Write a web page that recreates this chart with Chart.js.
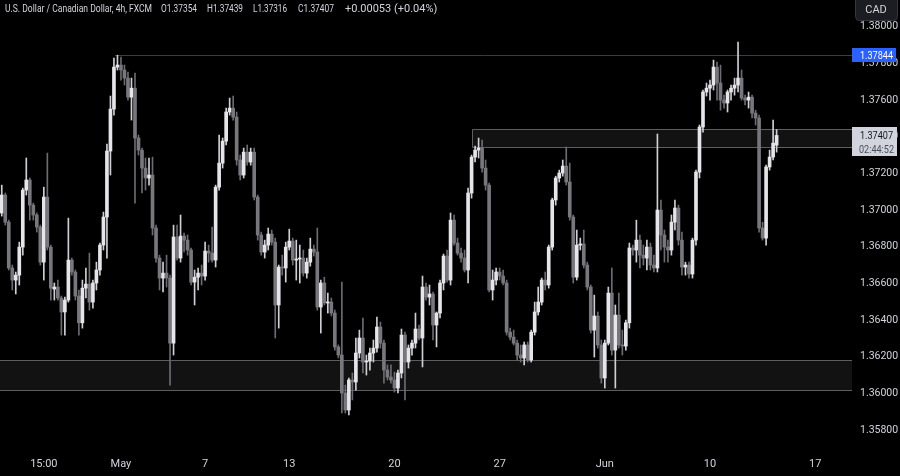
<!DOCTYPE html>
<html>
<head>
<meta charset="utf-8">
<title>USDCAD 4h</title>
<script src="https://cdn.jsdelivr.net/npm/chart.js@4.4.1/dist/chart.umd.min.js"></script>
<style>
  html, body { margin: 0; padding: 0; background: #000; }
  canvas { display: block; }
</style>
</head>
<body>
<canvas id="chart" width="900" height="476"></canvas>
<script>
'use strict'
// USDCAD 4h candles (FXCM)
const opens = [
  1.36984, 1.37082, 1.36934, 1.36684, 1.36618, 1.36645, 1.36798, 1.37109, 1.37164, 1.37027,
  1.36973, 1.36907, 1.36716, 1.37071, 1.36798, 1.36569, 1.36580, 1.36520, 1.36444, 1.36509,
  1.36727, 1.36662, 1.36531, 1.36385, 1.36574, 1.36596, 1.36498, 1.36602, 1.36673, 1.36809,
  1.36962, 1.37322, 1.37551, 1.37780, 1.37791, 1.37764, 1.37720, 1.37616, 1.37665, 1.37393,
  1.37327, 1.37229, 1.37175, 1.37191, 1.36902, 1.36738, 1.36629, 1.36656, 1.36629, 1.36274,
  1.36853, 1.36738, 1.36858, 1.36836, 1.36782, 1.36607, 1.36634, 1.36656, 1.36640, 1.36776,
  1.36765, 1.36727, 1.37125, 1.37256, 1.37376, 1.37535, 1.37556, 1.37507, 1.37273, 1.37191,
  1.37316, 1.37262, 1.37316, 1.37071, 1.36864, 1.36771, 1.36809, 1.36869, 1.36825, 1.36482,
  1.36689, 1.36684, 1.36798, 1.36831, 1.36727, 1.36733, 1.36738, 1.36656, 1.36716, 1.36787,
  1.36771, 1.36471, 1.36602, 1.36493, 1.36498, 1.36438, 1.36253, 1.36209, 1.36002, 1.35909,
  1.36073, 1.36062, 1.36220, 1.36302, 1.36171, 1.36176, 1.36220, 1.36247, 1.36362, 1.36274,
  1.36127, 1.36089, 1.36073, 1.36029, 1.36111, 1.36318, 1.36171, 1.36247, 1.36274, 1.36351,
  1.36302, 1.36580, 1.36525, 1.36542, 1.36373, 1.36438, 1.36602, 1.36749, 1.36618, 1.36945,
  1.36820, 1.36765, 1.36738, 1.36673, 1.37093, 1.37289, 1.37327, 1.37338, 1.37229, 1.37136,
  1.36564, 1.36618, 1.36662, 1.36640, 1.36602, 1.36334, 1.36307, 1.36274, 1.36209, 1.36193,
  1.36264, 1.36182, 1.36334, 1.36444, 1.36498, 1.36618, 1.36591, 1.36798, 1.37055, 1.37175,
  1.37202, 1.37240, 1.37153, 1.36962, 1.36634, 1.36809, 1.36815, 1.36700, 1.36580, 1.36345,
  1.36422, 1.36264, 1.36084, 1.36274, 1.36547, 1.36236, 1.36427, 1.36264, 1.36258, 1.36385,
  1.36793, 1.36782, 1.36836, 1.36754, 1.36738, 1.36798, 1.36700, 1.36684, 1.37000, 1.36864,
  1.36798, 1.36782, 1.36934, 1.37011, 1.36836, 1.36689, 1.36700, 1.36651, 1.36836, 1.37207,
  1.37453, 1.37644, 1.37665, 1.37682, 1.37780, 1.37693, 1.37600, 1.37584, 1.37644, 1.37665,
  1.37682, 1.37720, 1.37611, 1.37600, 1.37616, 1.37529, 1.37502, 1.36902, 1.36847, 1.37235,
  1.37289, 1.37354
];
const highs = [
  1.37136, 1.37093, 1.36945, 1.36700, 1.36662, 1.36825, 1.37120, 1.37284, 1.37175, 1.37038,
  1.36984, 1.36918, 1.37125, 1.37311, 1.36809, 1.36602, 1.36618, 1.36531, 1.36525, 1.36956,
  1.36738, 1.36673, 1.36564, 1.36618, 1.36684, 1.36765, 1.36618, 1.36716, 1.36820, 1.36989,
  1.37360, 1.37622, 1.37829, 1.37845, 1.37835, 1.37791, 1.37753, 1.37720, 1.37747, 1.37409,
  1.37338, 1.37284, 1.37284, 1.37289, 1.36918, 1.36754, 1.36716, 1.36754, 1.36645, 1.36918,
  1.36918, 1.36973, 1.36874, 1.36864, 1.36793, 1.36673, 1.36684, 1.36700, 1.36825, 1.36809,
  1.36907, 1.37136, 1.37409, 1.37393, 1.37556, 1.37611, 1.37622, 1.37535, 1.37300, 1.37338,
  1.37355, 1.37338, 1.37338, 1.37082, 1.36880, 1.36836, 1.36902, 1.36891, 1.36847, 1.36700,
  1.36754, 1.36825, 1.36896, 1.36847, 1.36836, 1.36809, 1.36782, 1.36738, 1.36847, 1.36809,
  1.36902, 1.36618, 1.36634, 1.36547, 1.36520, 1.36454, 1.36264, 1.36607, 1.36045, 1.36084,
  1.36111, 1.36302, 1.36345, 1.36411, 1.36209, 1.36247, 1.36291, 1.36416, 1.36389, 1.36291,
  1.36155, 1.36155, 1.36116, 1.36127, 1.36351, 1.36334, 1.36264, 1.36291, 1.36438, 1.36373,
  1.36640, 1.36602, 1.36591, 1.36553, 1.36444, 1.36618, 1.36760, 1.36782, 1.36984, 1.36973,
  1.36847, 1.36793, 1.36782, 1.37120, 1.37300, 1.37349, 1.37393, 1.37382, 1.37273, 1.37147,
  1.36673, 1.36684, 1.36684, 1.36673, 1.36618, 1.36356, 1.36345, 1.36291, 1.36264, 1.36280,
  1.36280, 1.36345, 1.36498, 1.36580, 1.36629, 1.36662, 1.36809, 1.37065, 1.37185, 1.37218,
  1.37273, 1.37344, 1.37256, 1.36973, 1.36891, 1.36847, 1.36891, 1.36716, 1.36591, 1.36536,
  1.36444, 1.36291, 1.36291, 1.36580, 1.36684, 1.36482, 1.36547, 1.36345, 1.36400, 1.36820,
  1.36809, 1.36945, 1.36864, 1.36809, 1.36836, 1.36820, 1.36754, 1.37415, 1.37055, 1.36891,
  1.36836, 1.36973, 1.37055, 1.37027, 1.36880, 1.36716, 1.36716, 1.36847, 1.37218, 1.37464,
  1.37655, 1.37693, 1.37709, 1.37818, 1.37807, 1.37791, 1.37627, 1.37655, 1.37682, 1.37720,
  1.37916, 1.37764, 1.37627, 1.37644, 1.37627, 1.37545, 1.37518, 1.36934, 1.37245, 1.37327,
  1.37491, 1.37439
];
const lows = [
  1.36967, 1.36918, 1.36673, 1.36564, 1.36542, 1.36591, 1.36754, 1.37082, 1.36945, 1.36945,
  1.36880, 1.36700, 1.36618, 1.36782, 1.36509, 1.36509, 1.36509, 1.36318, 1.36318, 1.36498,
  1.36645, 1.36509, 1.36318, 1.36356, 1.36520, 1.36454, 1.36465, 1.36564, 1.36645, 1.36782,
  1.36738, 1.37191, 1.37518, 1.37764, 1.37709, 1.37682, 1.37600, 1.37491, 1.37038, 1.37300,
  1.37093, 1.37109, 1.37136, 1.36864, 1.36716, 1.36564, 1.36553, 1.36580, 1.36045, 1.36209,
  1.36727, 1.36716, 1.36771, 1.36754, 1.36591, 1.36482, 1.36564, 1.36591, 1.36618, 1.36716,
  1.36716, 1.36689, 1.37109, 1.37229, 1.37355, 1.37518, 1.37491, 1.37245, 1.37164, 1.37175,
  1.37245, 1.37245, 1.37055, 1.36836, 1.36754, 1.36738, 1.36782, 1.36809, 1.36302, 1.36356,
  1.36645, 1.36607, 1.36782, 1.36700, 1.36618, 1.36602, 1.36640, 1.36629, 1.36694, 1.36749,
  1.36454, 1.36329, 1.36482, 1.36438, 1.36422, 1.36236, 1.36193, 1.35893, 1.35893, 1.35882,
  1.35964, 1.36018, 1.36193, 1.36111, 1.36100, 1.36127, 1.36171, 1.36225, 1.36247, 1.36056,
  1.36073, 1.36056, 1.36007, 1.36002, 1.36084, 1.35964, 1.36138, 1.36209, 1.36247, 1.36291,
  1.36144, 1.36509, 1.36482, 1.36291, 1.36253, 1.36411, 1.36564, 1.36607, 1.36591, 1.36809,
  1.36754, 1.36716, 1.36662, 1.36602, 1.37065, 1.37262, 1.37284, 1.37207, 1.37109, 1.36553,
  1.36509, 1.36591, 1.36618, 1.36591, 1.36318, 1.36291, 1.36264, 1.36182, 1.36171, 1.36155,
  1.36171, 1.36171, 1.36318, 1.36427, 1.36482, 1.36564, 1.36574, 1.36782, 1.37027, 1.37153,
  1.37185, 1.37136, 1.36945, 1.36602, 1.36618, 1.36782, 1.36684, 1.36564, 1.36329, 1.36198,
  1.36247, 1.36056, 1.36029, 1.36264, 1.36209, 1.36029, 1.36247, 1.36209, 1.36236, 1.36356,
  1.36754, 1.36716, 1.36684, 1.36700, 1.36673, 1.36673, 1.36662, 1.36662, 1.36782, 1.36716,
  1.36716, 1.36754, 1.36891, 1.36809, 1.36645, 1.36645, 1.36629, 1.36629, 1.36809, 1.37175,
  1.37425, 1.37622, 1.37600, 1.37655, 1.37600, 1.37545, 1.37556, 1.37535, 1.37600, 1.37627,
  1.37644, 1.37600, 1.37573, 1.37556, 1.37502, 1.37464, 1.36880, 1.36836, 1.36809, 1.37218,
  1.37273, 1.37316
];
const closes = [
  1.37082, 1.36934, 1.36684, 1.36618, 1.36645, 1.36798, 1.37109, 1.37164, 1.37027, 1.36973,
  1.36907, 1.36716, 1.37071, 1.36798, 1.36574, 1.36580, 1.36520, 1.36444, 1.36509, 1.36727,
  1.36662, 1.36531, 1.36385, 1.36574, 1.36596, 1.36498, 1.36602, 1.36673, 1.36809, 1.36962,
  1.37322, 1.37551, 1.37780, 1.37791, 1.37764, 1.37720, 1.37616, 1.37665, 1.37393, 1.37327,
  1.37229, 1.37175, 1.37191, 1.36902, 1.36738, 1.36629, 1.36656, 1.36629, 1.36274, 1.36853,
  1.36738, 1.36858, 1.36836, 1.36782, 1.36607, 1.36634, 1.36656, 1.36640, 1.36776, 1.36765,
  1.36727, 1.37125, 1.37256, 1.37376, 1.37535, 1.37556, 1.37507, 1.37273, 1.37191, 1.37316,
  1.37262, 1.37316, 1.37071, 1.36864, 1.36771, 1.36809, 1.36869, 1.36825, 1.36482, 1.36689,
  1.36684, 1.36798, 1.36831, 1.36727, 1.36733, 1.36738, 1.36656, 1.36716, 1.36787, 1.36771,
  1.36471, 1.36602, 1.36493, 1.36498, 1.36438, 1.36253, 1.36209, 1.36002, 1.35909, 1.36073,
  1.36062, 1.36220, 1.36302, 1.36171, 1.36176, 1.36220, 1.36247, 1.36362, 1.36274, 1.36127,
  1.36089, 1.36073, 1.36029, 1.36111, 1.36318, 1.36171, 1.36247, 1.36274, 1.36351, 1.36302,
  1.36580, 1.36525, 1.36542, 1.36373, 1.36438, 1.36602, 1.36749, 1.36618, 1.36945, 1.36820,
  1.36765, 1.36738, 1.36673, 1.37093, 1.37289, 1.37327, 1.37338, 1.37229, 1.37136, 1.36564,
  1.36618, 1.36662, 1.36640, 1.36602, 1.36334, 1.36307, 1.36274, 1.36209, 1.36193, 1.36264,
  1.36182, 1.36334, 1.36444, 1.36498, 1.36618, 1.36591, 1.36798, 1.37055, 1.37175, 1.37202,
  1.37240, 1.37153, 1.36962, 1.36634, 1.36809, 1.36815, 1.36700, 1.36580, 1.36345, 1.36422,
  1.36264, 1.36084, 1.36274, 1.36547, 1.36236, 1.36427, 1.36264, 1.36258, 1.36385, 1.36793,
  1.36782, 1.36836, 1.36754, 1.36738, 1.36798, 1.36700, 1.36684, 1.37000, 1.36864, 1.36798,
  1.36782, 1.36934, 1.37011, 1.36836, 1.36689, 1.36700, 1.36651, 1.36836, 1.37207, 1.37453,
  1.37644, 1.37665, 1.37682, 1.37780, 1.37693, 1.37600, 1.37584, 1.37644, 1.37665, 1.37682,
  1.37720, 1.37611, 1.37600, 1.37616, 1.37529, 1.37502, 1.36902, 1.36847, 1.37235, 1.37289,
  1.37365, 1.37407
];

// empty 4h slots to the right of the last candle
const futureSlots = 21;
const timeLabels = ['15:00', 'May', '7', '13', '20', '27', 'Jun', '10', '17'];
const timeSlots = [12, 34, 58, 82, 112, 142, 172, 202, 232];
const priceTicks = [1.358, 1.360, 1.362, 1.364, 1.366, 1.368, 1.370, 1.372, 1.374, 1.376, 1.378, 1.380];
const priceMin = 1.35691;
const priceMax = 1.38146;

const highLine = 1.37844;
const highLineFrom = 32.3;
const upperZone = [1.37345, 1.37440];
const upperZoneFrom = 134;
const lowerZone = [1.36018, 1.36182];
const lastPrice = 1.37407;
const countdown = '02:44:52';
const currency = 'CAD';
const headerParts = ['U.S. Dollar / Canadian Dollar, 4h, FXCM', 'O1.37354', 'H1.37439', 'L1.37316', 'C1.37407', '+0.00053 (+0.04%)'];

const FONT = 'Roboto, "Liberation Sans", sans-serif';
const TEXT = '#d1d4dc';
const UP = '#e6e6ea', DOWN = '#77777d';
const UP_WICK = '#cfcfd4', DOWN_WICK = '#6b6b71';

const slots = Array.from({ length: opens.length + futureSlots }, (_, i) => String(i));
const isUp = opens.map((o, i) => closes[i] >= o);

// no half-label padding around the axes, so the plot fills 0..852 x 0..450
const noPadding = axis => {
    axis.paddingTop = 0;
    axis.paddingBottom = 0;
    axis.paddingLeft = 0;
    axis.paddingRight = 0;
};

const overlays = {
    id: 'overlays',
    beforeDatasetsDraw(chart) {
        const { ctx, chartArea: a, scales: { x, y } } = chart;
        const py = v => Math.round(y.getPixelForValue(v)) + 0.5;
        ctx.save();
        ctx.lineWidth = 1;

        // lower support zone
        let t = py(lowerZone[1]), b = py(lowerZone[0]);
        ctx.fillStyle = '#121212';
        ctx.fillRect(a.left, t, a.right - a.left, b - t);
        ctx.strokeStyle = '#5e5e5e';
        ctx.beginPath();
        ctx.moveTo(a.left, t); ctx.lineTo(a.right, t);
        ctx.moveTo(a.left, b); ctx.lineTo(a.right, b);
        ctx.stroke();

        // upper zone
        const zx = Math.round(x.getPixelForValue(upperZoneFrom)) + 0.5;
        t = py(upperZone[1]); b = py(upperZone[0]);
        ctx.fillRect(zx, t, a.right - zx, b - t);
        ctx.beginPath();
        ctx.moveTo(a.right, t); ctx.lineTo(zx, t); ctx.lineTo(zx, b); ctx.lineTo(a.right, b);
        ctx.stroke();

        // swing high line
        const hy = py(highLine);
        ctx.strokeStyle = '#2f3494';
        ctx.beginPath();
        ctx.moveTo(x.getPixelForValue(highLineFrom), hy); ctx.lineTo(a.right, hy);
        ctx.stroke();
        ctx.restore();
    },
    afterDraw(chart) {
        const { ctx, chartArea: a, scales: { y } } = chart;
        ctx.save();
        ctx.textBaseline = 'middle';
        ctx.font = '11px ' + FONT;

        // blue price label
        let cy = y.getPixelForValue(highLine);
        ctx.fillStyle = '#2962ff';
        ctx.fillRect(a.right, Math.round(cy) - 7, 44, 14);
        ctx.fillStyle = '#ffffff';
        ctx.fillText(highLine.toFixed(5), a.right + 8, cy + 0.5, 33);

        // last price + countdown
        cy = y.getPixelForValue(lastPrice);
        ctx.fillStyle = '#d1d4dc';
        ctx.fillRect(a.right, Math.round(cy) - 8, 45, 29);
        ctx.fillStyle = '#131722';
        ctx.fillText(lastPrice.toFixed(5), a.right + 8, cy + 0.5, 33);
        ctx.fillStyle = '#4a4e5a';
        ctx.fillText(countdown, a.right + 7, cy + 14.5, 35);

        // currency box
        ctx.fillStyle = '#1c1d22';
        ctx.strokeStyle = '#34363d';
        ctx.beginPath();
        ctx.roundRect(855.5, -4.5, 42, 25, 4);
        ctx.fill(); ctx.stroke();
        ctx.fillStyle = TEXT;
        ctx.textAlign = 'center';
        ctx.fillText(currency, 876, 10);

        // header
        ctx.textAlign = 'left';
        ctx.font = '11px ' + FONT;
        const xs = [5, 161, 207, 253, 298, 345];
        const ws = [147, 36, 36, 34, 36, 103];
        headerParts.forEach((s, i) => ctx.fillText(s, xs[i], 9.5, ws[i]));
        ctx.restore();
    }
};

new Chart(document.getElementById('chart'), {
    type: 'bar',
    data: {
        labels: slots,
        datasets: [{
            label: 'body',
            data: opens.map((o, i) => [o, closes[i]]),
            backgroundColor: isUp.map(u => u ? UP : DOWN),
            barThickness: 3,
            minBarLength: 1,
            grouped: false
        }, {
            label: 'wick',
            data: lows.map((l, i) => [l, highs[i]]),
            backgroundColor: isUp.map(u => u ? UP_WICK : DOWN_WICK),
            barThickness: 1,
            grouped: false
        }]
    },
    options: {
        responsive: false,
        animation: false,
        layout: { padding: 0, autoPadding: false },
        plugins: { legend: { display: false }, title: { display: false }, tooltip: { enabled: false } },
        scales: {
            x: {
                offset: true,
                grid: { display: false, drawTicks: false },
                border: { display: false },
                afterBuildTicks: axis => { axis.ticks = timeSlots.map(v => ({ value: v })); },
                afterFit: axis => { axis.height = 26; noPadding(axis); },
                ticks: {
                    autoSkip: false,
                    maxRotation: 0,
                    padding: 8,
                    color: TEXT,
                    font: { family: FONT, size: 11 },
                    callback: v => timeLabels[timeSlots.indexOf(v)]
                }
            },
            y: {
                position: 'right',
                min: priceMin,
                max: priceMax,
                grid: { display: false, drawTicks: false },
                border: { display: false },
                afterBuildTicks: axis => { axis.ticks = priceTicks.map(v => ({ value: v })); },
                afterFit: axis => { axis.width = 48; noPadding(axis); },
                ticks: {
                    padding: 8,
                    color: TEXT,
                    font: { family: FONT, size: 10.5 },
                    callback: v => v.toFixed(5)
                }
            }
        }
    },
    plugins: [overlays]
});
</script>
</body>
</html>
